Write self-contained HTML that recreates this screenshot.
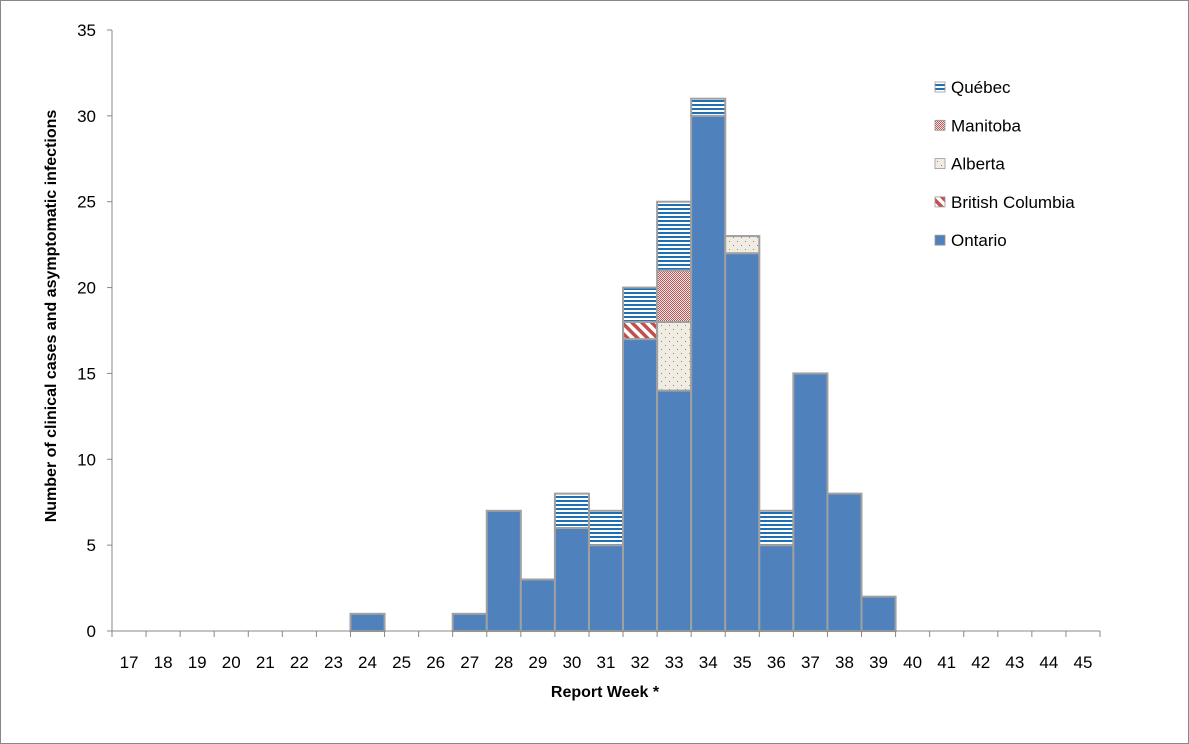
<!DOCTYPE html>
<html><head><meta charset="utf-8"><style>
body{margin:0;background:#fff}
svg{display:block;font-family:"Liberation Sans",sans-serif}
</style></head><body>
<svg id="c" width="1189" height="744" xmlns="http://www.w3.org/2000/svg">
<defs>
<pattern id="pQ" width="4" height="4" patternUnits="userSpaceOnUse"><rect width="4" height="4" fill="#fff"/><rect width="4" height="2" fill="#1f6fb4"/></pattern>
<pattern id="pM" width="2" height="2" patternUnits="userSpaceOnUse"><rect width="2" height="2" fill="#f2e2e2"/><rect width="1" height="1" fill="#b65a5a"/><rect x="1" y="1" width="1" height="1" fill="#b65a5a"/></pattern>
<pattern id="pA" width="8" height="8" patternUnits="userSpaceOnUse"><rect width="8" height="8" fill="#f1ece2"/><rect x="1" y="1" width="1" height="1" fill="#888"/><rect x="5" y="5" width="1" height="1" fill="#888"/></pattern>
<pattern id="pB" width="7" height="7" patternUnits="userSpaceOnUse" patternTransform="rotate(-45)"><rect width="7" height="7" fill="#fff"/><rect width="3.5" height="7" fill="#c0504d"/></pattern>
</defs>
<rect x="0.5" y="0.5" width="1188" height="743" fill="#fff" stroke="#888"/>
<g id="g"></g>
</svg>
<script>
const weeks=[17,18,19,20,21,22,23,24,25,26,27,28,29,30,31,32,33,34,35,36,37,38,39,40,41,42,43,44,45];
const ontario=[0,0,0,0,0,0,0,1,0,0,1,7,3,6,5,17,14,30,22,5,15,8,2,0,0,0,0,0,0];
const bc=[0,0,0,0,0,0,0,0,0,0,0,0,0,0,0,1,0,0,0,0,0,0,0,0,0,0,0,0,0];
const alberta=[0,0,0,0,0,0,0,0,0,0,0,0,0,0,0,0,4,0,1,0,0,0,0,0,0,0,0,0,0];
const manitoba=[0,0,0,0,0,0,0,0,0,0,0,0,0,0,0,0,3,0,0,0,0,0,0,0,0,0,0,0,0];
const quebec=[0,0,0,0,0,0,0,0,0,0,0,0,0,2,2,2,4,1,0,2,0,0,0,0,0,0,0,0,0];
const yTicks=[0,5,10,15,20,25,30,35];
const series=[["Ontario",ontario,"#4f81bd"],["British Columbia",bc,"url(#pB)"],["Alberta",alberta,"url(#pA)"],["Manitoba",manitoba,"url(#pM)"],["Québec",quebec,"url(#pQ)"]];
const X0=112,X1=1100,Y0=631,YT=30,YMAX=35;
const bw=(X1-X0)/weeks.length;
const y=v=>Y0-(Y0-YT)*v/YMAX;
const xs=i=>X0+i*bw;
const g=document.getElementById('g');
const NS="http://www.w3.org/2000/svg";
function mk(t,a,p){const e=document.createElementNS(NS,t);for(const k in a)e.setAttribute(k,a[k]);(p||g).appendChild(e);return e;}
let ax=mk('line',{x1:X0,y1:YT,x2:X0,y2:Y0,stroke:'#888'});


yTicks.forEach(v=>{
 mk('line',{x1:X0-5,y1:y(v),x2:X0,y2:y(v),stroke:'#888'});
 const t=mk('text',{x:X0-16,y:y(v)+6,'text-anchor':'end','font-size':17,fill:'#000'});t.textContent=v;
 
 
});
weeks.forEach((w,i)=>{
 let base=0;
 series.forEach(([n,vals,f])=>{
  const v=vals[i]; if(!v)return;
  const r=mk('rect',{x:xs(i),y:y(base+v),width:bw,height:y(base)-y(base+v),fill:f,stroke:'#a0a0a0','stroke-width':2});
  
  
  base+=v;
 });
});
let xa=mk('line',{x1:X0,y1:Y0,x2:X1,y2:Y0,stroke:'#888'});


weeks.forEach((w,i)=>{
 mk('line',{x1:xs(i),y1:Y0,x2:xs(i),y2:Y0+6,stroke:'#888'});
 const t=mk('text',{x:xs(i)+bw/2,y:668,'text-anchor':'middle','font-size':17});t.textContent=w;
 
 
});
mk('line',{x1:X1,y1:Y0,x2:X1,y2:Y0+6,stroke:'#888'});
let xt=mk('text',{x:605,y:697,'text-anchor':'middle','font-size':16,'font-weight':'bold'});xt.textContent='Report Week *';


let yt=mk('text',{x:0,y:0,'text-anchor':'middle','font-size':16,'font-weight':'bold',transform:'translate(56,316) rotate(-90)'});yt.textContent='Number of clinical cases and asymptomatic infections';


const leg=[["Québec","url(#pQ)"],["Manitoba","url(#pM)"],["Alberta","url(#pA)"],["British Columbia","url(#pB)"],["Ontario","#4f81bd"]];
leg.forEach(([n,f],k)=>{
 const yy=87+k*38.3;
 const r=mk('rect',{x:935,y:yy-5,width:10,height:10,fill:f,stroke:'#999','stroke-width':0.8});
 
 
 const t=mk('text',{x:951,y:yy+6,'font-size':17});t.textContent=n;
 
 
});
</script>
</body></html>
